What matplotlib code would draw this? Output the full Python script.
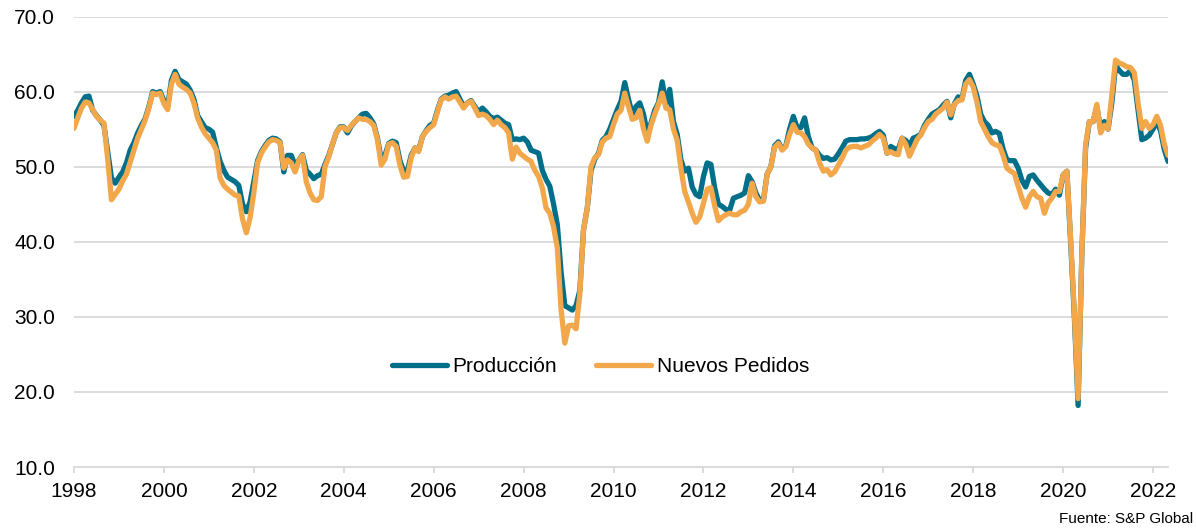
import numpy as np
import matplotlib
matplotlib.use("Agg")
import matplotlib.pyplot as plt

plt.rcParams['font.family'] = ['Liberation Sans', 'DejaVu Sans']

# monthly values, Jan 1998 - May 2022
produccion = [
    56.7, 57.5, 58.5, 59.3, 59.4, 57.5, 56.8, 56.2, 55.5, 52.0, 48.5, 47.8,  # 1998
    48.6, 49.3, 50.5, 52.2, 53.2, 54.5, 55.5, 56.4, 58.0, 60.0, 59.8, 60.0,  # 1999
    58.8, 58.0, 61.5, 62.7, 61.6, 61.3, 61.0, 60.2, 59.0, 56.8, 56.0, 55.2,  # 2000
    55.0, 54.6, 52.5, 50.7, 49.5, 48.6, 48.3, 48.0, 47.5, 45.0, 44.0, 45.3,  # 2001
    48.0, 50.8, 52.0, 52.8, 53.5, 53.8, 53.7, 53.3, 49.3, 51.5, 51.5, 50.2,  # 2002
    50.8, 51.6, 49.5, 49.0, 48.4, 48.8, 49.0, 50.3, 51.5, 53.0, 54.5, 55.3,  # 2003
    55.3, 54.5, 55.4, 56.0, 56.5, 57.0, 57.1, 56.5, 55.7, 53.8, 51.0, 51.5,  # 2004
    53.1, 53.4, 53.2, 50.8, 49.4, 49.5, 51.5, 52.5, 52.2, 54.0, 54.8, 55.5,  # 2005
    55.8, 57.5, 59.0, 59.4, 59.5, 59.8, 60.0, 59.0, 58.0, 58.5, 58.8, 58.0,  # 2006
    57.3, 57.8, 57.3, 56.7, 56.4, 56.6, 56.2, 55.8, 55.6, 53.6, 53.7, 53.6,  # 2007
    53.8, 53.3, 52.2, 52.0, 51.8, 49.5, 48.3, 47.4, 45.0, 42.3, 36.0, 31.5,  # 2008
    31.2, 30.9, 31.5, 33.5, 41.6, 44.5, 49.5, 51.0, 51.8, 53.5, 54.0, 55.0,  # 2009
    56.3, 57.6, 58.7, 61.2, 59.0, 57.0, 58.0, 58.5, 57.0, 54.5, 55.8, 57.5,  # 2010
    58.5, 61.3, 58.3, 60.3, 56.0, 54.3, 50.9, 49.4, 49.8, 47.3, 46.3, 46.0,  # 2011
    48.7, 50.5, 50.3, 47.2, 45.0, 44.7, 44.3, 44.2, 45.8, 46.0, 46.2, 46.5,  # 2012
    48.8, 48.0, 46.5, 45.5, 45.5, 49.0, 50.0, 52.8, 53.3, 52.3, 52.8, 55.0,  # 2013
    56.7, 55.2, 55.2, 56.5, 54.0, 52.5, 52.2, 51.5, 51.1, 51.2, 50.9, 51.0,  # 2014
    51.7, 52.5, 53.4, 53.6, 53.6, 53.6, 53.7, 53.7, 53.8, 54.0, 54.4, 54.7,  # 2015
    54.2, 51.8, 52.7, 52.4, 52.3, 53.8, 53.5, 52.8, 53.8, 54.0, 54.3, 55.5,  # 2016
    56.3, 57.0, 57.3, 57.6, 58.2, 58.7, 56.5, 58.4, 59.3, 59.0, 61.5, 62.3,  # 2017
    61.0, 59.4, 57.0, 56.0, 55.5, 54.5, 54.7, 54.4, 52.3, 50.9, 50.8, 50.8,  # 2018
    49.8, 48.2, 47.3, 48.7, 48.9, 48.2, 47.6, 47.0, 46.5, 46.3, 47.0, 46.2,  # 2019
    48.9, 49.4, 40.0, 30.0, 18.2, 38.5, 52.5, 56.0, 56.0, 58.0, 55.0, 56.0,  # 2020
    55.0, 58.5, 63.5, 62.8, 62.3, 62.3, 62.8, 61.5, 57.5, 53.6, 53.8, 54.2,  # 2021
    55.0, 56.0, 54.8, 52.3, 50.7,                                            # 2022
]

nuevos_pedidos = [
    55.1, 56.5, 57.8, 58.6, 58.5, 57.6, 56.7, 56.2, 55.8, 51.0, 45.6, 46.3,  # 1998
    47.0, 48.1, 49.0, 50.6, 52.2, 53.8, 55.0, 56.2, 57.8, 59.8, 59.6, 59.8,  # 1999
    58.4, 57.6, 61.0, 62.3, 61.0, 60.6, 60.3, 59.8, 58.5, 56.5, 55.3, 54.4,  # 2000
    53.8, 53.2, 52.2, 48.5, 47.5, 47.0, 46.6, 46.2, 46.1, 43.0, 41.2, 43.2,  # 2001
    46.5, 50.5, 51.8, 52.6, 53.3, 53.6, 53.5, 53.2, 49.8, 50.9, 50.5, 49.3,  # 2002
    50.8, 51.5, 48.0, 46.5, 45.6, 45.5, 46.0, 50.0, 51.3, 53.0, 54.5, 55.2,  # 2003
    55.2, 54.8, 55.5, 56.0, 56.5, 56.3, 56.3, 56.0, 55.5, 53.6, 50.2, 51.0,  # 2004
    53.0, 53.2, 52.7, 50.2, 48.6, 48.7, 51.2, 52.5, 52.0, 54.0, 54.7, 55.2,  # 2005
    55.6, 57.3, 58.9, 59.3, 59.0, 59.3, 59.4, 58.6, 57.8, 58.5, 58.7, 57.8,  # 2006
    56.8, 57.0, 56.8, 56.3, 55.6, 56.2, 55.6, 55.2, 54.5, 51.0, 52.6, 51.8,  # 2007
    51.4, 51.0, 50.7, 49.5, 48.7, 47.2, 44.5, 43.8, 42.0, 39.2, 31.0, 26.5,  # 2008
    28.8, 28.9, 28.4, 33.0, 41.6, 44.5, 50.0, 51.2, 51.6, 53.3, 53.8, 54.0,  # 2009
    55.6, 57.0, 57.5, 59.8, 58.0, 56.3, 56.5, 57.5, 55.0, 53.4, 55.5, 57.0,  # 2010
    58.3, 59.8, 57.8, 57.6, 55.0, 53.5, 49.8, 46.7, 45.3, 43.8, 42.6, 43.3,  # 2011
    45.1, 47.0, 47.2, 44.8, 42.8, 43.3, 43.6, 43.8, 43.6, 43.6, 44.0, 44.2,  # 2012
    45.0, 47.8, 46.0, 45.3, 45.4, 49.0, 50.0, 52.6, 53.1, 52.2, 52.7, 54.3,  # 2013
    55.6, 54.6, 54.5, 54.0, 53.0, 52.5, 52.2, 50.5, 49.4, 49.6, 48.9, 49.3,  # 2014
    50.2, 51.1, 52.2, 52.6, 52.7, 52.7, 52.5, 52.7, 52.9, 53.4, 53.8, 54.3,  # 2015
    53.8, 51.8, 52.0, 51.7, 51.6, 53.8, 53.0, 51.4, 52.5, 53.6, 54.2, 55.2,  # 2016
    56.0, 56.3, 57.0, 57.4, 57.8, 58.6, 56.9, 58.3, 58.8, 58.9, 61.0, 61.6,  # 2017
    60.6, 58.6, 56.0, 55.0, 54.0, 53.2, 52.9, 52.8, 51.5, 49.8, 49.4, 49.1,  # 2018
    47.4, 45.8, 44.6, 46.0, 46.7, 46.0, 45.8, 43.8, 45.2, 45.8, 46.7, 46.7,  # 2019
    48.9, 49.4, 40.5, 30.5, 19.1, 38.5, 53.0, 56.0, 56.0, 58.3, 54.5, 55.5,  # 2020
    55.0, 59.5, 64.2, 63.8, 63.6, 63.3, 63.2, 62.5, 58.5, 55.1, 56.0, 55.1,  # 2021
    55.6, 56.7, 55.5, 53.0, 51.5,                                            # 2022
]

year_ticks = list(range(1998, 2023, 2))
y_ticks = [10, 20, 30, 40, 50, 60, 70]

teal = '#006f8a'
orange = '#f2a74b'
grid_col = '#d9d9d9'

x = 1998 + np.arange(len(produccion)) / 12.0

fig = plt.figure(figsize=(11.97, 5.29), dpi=100)
ax = fig.add_axes([0.0618, 0.1172, 0.9140, 0.8516])

ax.plot(x, produccion, color=teal, lw=3.8, solid_capstyle='round',
        solid_joinstyle='round', label='Producción')
ax.plot(x, nuevos_pedidos, color=orange, lw=3.8, solid_capstyle='round',
        solid_joinstyle='round', label='Nuevos Pedidos')

ax.set_xlim(1998, x[-1])
ax.set_ylim(10, 70)
ax.set_yticks(y_ticks)
ax.set_yticklabels([f'{v:.1f}' for v in y_ticks])
ax.set_xticks(year_ticks)
ax.set_xticklabels([str(y) for y in year_ticks])

ax.grid(axis='y', color=grid_col, lw=1.3)
ax.set_axisbelow(True)
for s in ['top', 'right', 'left']:
    ax.spines[s].set_visible(False)
ax.spines['bottom'].set_color(grid_col)
ax.spines['bottom'].set_linewidth(1.3)

ax.tick_params(axis='y', length=0, pad=13.5, labelsize=15, labelcolor='#000000')
ax.tick_params(axis='x', length=4.5, width=1.3, color=grid_col, pad=6.5,
               labelsize=15, labelcolor='#000000')

ax.legend(loc='center', bbox_to_anchor=(0.481, 0.222), frameon=False,
          fontsize=15, handlelength=2.65, handletextpad=0.25,
          columnspacing=1.9, ncol=2, borderpad=0)

fig.text(1193 / 1197, 1 - 519 / 529, 'Fuente: S&P Global', ha='right',
         va='center', fontsize=11)

fig.savefig('out.png', dpi=100)
